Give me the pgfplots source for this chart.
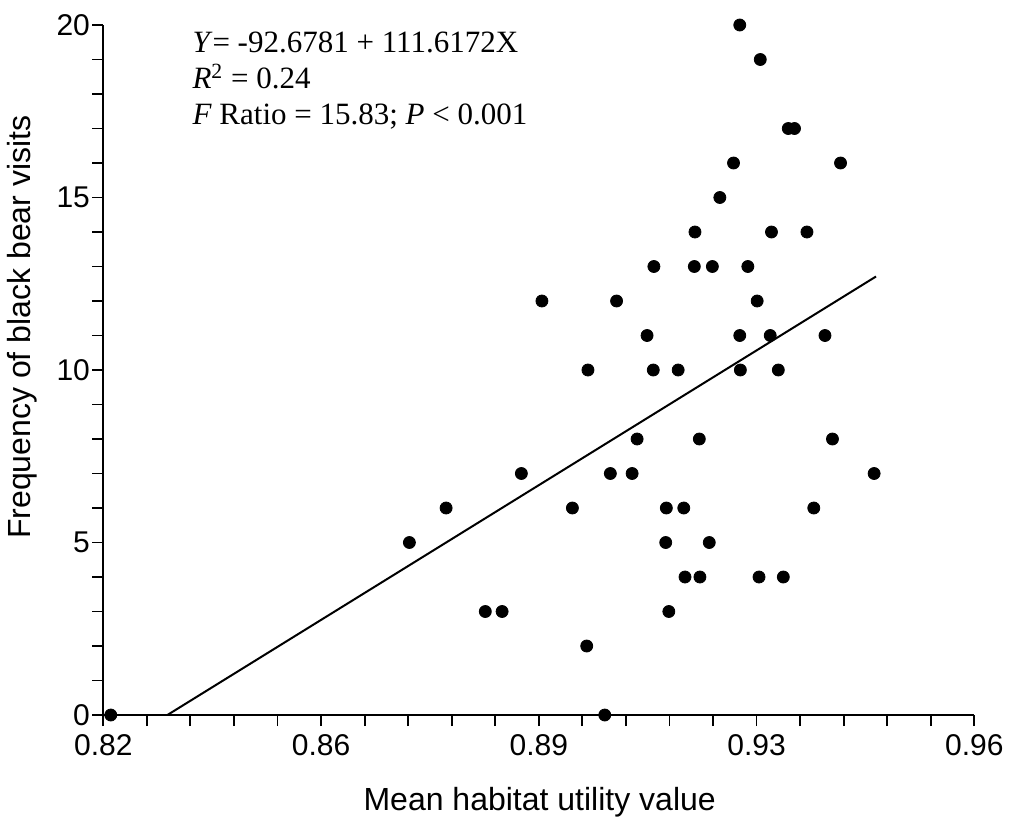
\documentclass[border=0pt]{standalone}
\usepackage{fontspec}
\setmainfont{Liberation Sans}
\newfontfamily\timesfont{Liberation Serif}
\usepackage{pgfplots}
\pgfplotsset{compat=1.18}

% visits against habitat utility
\pgfplotstableread{
x y
0.8212 0
0.9006 0
0.8692 5
0.8751 6
0.8814 3
0.8841 3
0.8872 7
0.8905 12
0.8954 6
0.8977 2
0.8979 10
0.9015 7
0.9025 12
0.9050 7
0.9058 8
0.9074 11
0.9085 13
0.9084 10
0.9105 6
0.9104 5
0.9109 3
0.9124 10
0.9133 6
0.9135 4
0.9150 13
0.9151 14
0.9158 8
0.9159 4
0.9174 5
0.9179 13
0.9191 15
0.9213 16
0.9223 20
0.9223 11
0.9224 10
0.9236 13
0.9251 12
0.9256 19
0.9254 4
0.9272 11
0.9274 14
0.9285 10
0.9293 4
0.9301 17
0.9311 17
0.9331 14
0.9342 6
0.9360 11
0.9372 8
0.9385 16
0.9439 7
}\visits

\begin{document}
\begin{tikzpicture}
\useasboundingbox (-51.65pt,-55.5pt) rectangle (453.85pt,357.5pt);
\begin{axis}[
  scale only axis,
  width=435.5pt, height=345pt,
  xmin=0.82, xmax=0.96, ymin=0, ymax=20,
  clip=false,
  axis x line=bottom, axis y line=left,
  axis line style={-, line width=1.2pt},
  xtick={0.82,0.855,0.89,0.925,0.96},
  xticklabels={0.82,0.86,0.89,0.93,0.96},
  ytick={0,5,10,15,20},
  minor x tick num=4, minor y tick num=4,
  tick align=outside,
  major tick length=5.5pt, minor tick length=5.5pt,
  tick style={line width=0.9pt, black},
  ticklabel style={font=\fontsize{15}{17}\selectfont},
  yticklabel style={inner xsep=1pt},
  xticklabel style={inner ysep=4pt},
  /pgf/number format/assume math mode=true,
  xlabel={Mean habitat utility value},
  ylabel={Frequency of black bear visits},
  label style={font=\fontsize{16}{19}\selectfont},
  xlabel style={at={(axis description cs:0.501,-0.127)}, anchor=center},
  ylabel style={at={(axis description cs:-0.0933,0.562)}, anchor=center},
]
\addplot[only marks, mark=*, mark size=3pt, black] table {\visits};
\addplot[black, line width=1pt] coordinates {(0.8303,0) (0.9442,12.71)};
\node[anchor=north west, align=left, inner sep=0pt,
  font=\timesfont\fontsize{15.5}{18}\selectfont]
  at (axis description cs:0.102,0.99)
  {\textit{Y}= -92.6781 + 111.6172X\\
   \textit{R}\textsuperscript{2} = 0.24\\
   \textit{F} Ratio = 15.83; \textit{P} < 0.001};
\end{axis}
\end{tikzpicture}
\end{document}
